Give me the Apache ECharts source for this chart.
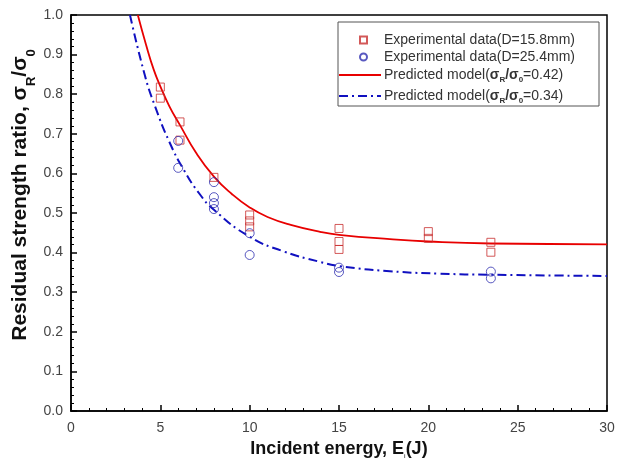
<!DOCTYPE html>
<html>
<head>
    <meta charset="utf-8">
    <title>Residual strength ratio</title>
    <script src="https://cdn.jsdelivr.net/npm/echarts@6/dist/echarts.min.js"></script>
</head>
<body style="margin:0">
<div id="main" style="width: 624px;height:458px;"></div>
<script type="text/javascript">
    var exp158 = [
        [5, 0.818], [5, 0.79], [6.1, 0.73], [6.1, 0.684], [8, 0.59],
        [10, 0.495], [10, 0.48], [10, 0.465],
        [15, 0.461], [15, 0.428], [15, 0.408],
        [20, 0.453], [20, 0.436],
        [23.5, 0.426], [23.5, 0.401]
    ];
    var exp254 = [
        [6, 0.682], [6, 0.614],
        [8, 0.578], [8, 0.54], [8, 0.525], [8, 0.51],
        [10, 0.449], [10, 0.394],
        [15, 0.362], [15, 0.351],
        [23.5, 0.352], [23.5, 0.335]
    ];
    // predicted model curves
    var model042 = [
        [3.74, 1.0], [4.2, 0.925], [4.63, 0.862], [5, 0.82], [5.5, 0.77],
        [6.1, 0.722], [7, 0.652], [8, 0.592], [9, 0.548], [10, 0.514],
        [11, 0.49], [12.3, 0.47], [14, 0.452], [15, 0.445], [17.85, 0.434],
        [20, 0.428], [23.5, 0.423], [30, 0.421]
    ];
    var model034 = [
        [3.3, 1.0], [4.15, 0.845], [4.7, 0.77], [5.5, 0.68], [6.3, 0.61],
        [7.2, 0.548], [8, 0.508], [10, 0.44], [11.9, 0.403], [13.9, 0.377],
        [15, 0.366], [17.85, 0.353], [20.6, 0.347], [23.5, 0.344], [30, 0.341]
    ];

    var myChart = echarts.init(document.getElementById('main'));

    var FONT = 'Liberation Sans';
    var legendRich = {
        a: {fontSize: 14, color: '#333', fontFamily: FONT, lineHeight: 18},
        s: {fontSize: 14, color: '#333', fontWeight: 'bold', fontFamily: FONT, lineHeight: 18},
        sub: {fontSize: 8, color: '#333', fontWeight: 'bold', fontFamily: FONT, verticalAlign: 'bottom', lineHeight: 18}
    };

    function modelLabel(name) {
        var v = name === 'p42' ? '0.42' : '0.34';
        return '{a|Predicted model(}{s|σ}{sub|R}{s|/σ}{sub|0}{a|=' + v + ')}';
    }

    var option = {
        animation: false,
        textStyle: {fontFamily: FONT},
        grid: {
            left: 71, right: 17, top: 15, bottom: 47,
            outerBoundsMode: 'none',
            containLabel: false,
            show: true, borderColor: '#000', borderWidth: 1.5
        },
        graphic: [{
            type: 'rect',
            shape: {x: 338, y: 22, width: 261, height: 84},
            style: {fill: '#fff', stroke: '#555', lineWidth: 1},
            z: 1
        }],
        legend: [
            {
                orient: 'vertical',
                left: 359, top: 32,
                padding: 0,
                itemGap: 1,
                itemWidth: 7,
                itemHeight: 7,
                z: 5,
                textStyle: {fontSize: 14, color: '#333', lineHeight: 16, padding: [0, 0, 0, 12]},
                data: ['Experimental data(D=15.8mm)', 'Experimental data(D=25.4mm)']
            },
            {
                orient: 'vertical',
                left: 338, top: 68,
                padding: 0,
                itemGap: 5,
                itemWidth: 42,
                itemHeight: 12,
                z: 5,
                itemStyle: {opacity: 0},
                textStyle: {fontSize: 14, color: '#333', rich: legendRich, padding: [0, 0, 0, -2]},
                formatter: modelLabel,
                data: ['p42', 'p34']
            }
        ],
        xAxis: {
            type: 'value', min: 0, max: 30, interval: 5,
            name: '{b|Incident energy, E}{i|i}{b|(J)}',
            nameLocation: 'middle', nameGap: 25,
            nameTextStyle: {
                rich: {
                    b: {fontSize: 18, fontWeight: 'bold', color: '#111', fontFamily: FONT},
                    i: {fontSize: 7, color: '#111', verticalAlign: 'bottom', padding: [0, 0, -3, 0]}
                }
            },
            axisLine: {lineStyle: {color: '#000', width: 1.5}},
            axisTick: {inside: true, length: 6, lineStyle: {color: '#000', width: 1.5}},
            minorTick: {show: true, splitNumber: 5, length: 3, lineStyle: {color: '#000', width: 1}},
            axisLabel: {fontSize: 14, color: '#444', margin: 10},
            splitLine: {show: false}
        },
        yAxis: {
            type: 'value', min: 0, max: 1, interval: 0.1,
            name: '{b|Residual strength ratio, σ}{s|R}{b|/σ}{s|0}',
            nameLocation: 'middle', nameGap: 40,
            nameMoveOverlap: false,
            nameTextStyle: {
                padding: [0, 0, 0, 36],
                rich: {
                    b: {fontSize: 21, fontWeight: 'bold', color: '#111', fontFamily: FONT},
                    s: {fontSize: 13, fontWeight: 'bold', color: '#111', verticalAlign: 'bottom', padding: [0, 0, -7, 0]}
                }
            },
            axisLine: {lineStyle: {color: '#000', width: 1.5}},
            axisTick: {inside: true, length: 6, lineStyle: {color: '#000', width: 1.5}},
            minorTick: {show: true, splitNumber: 5, length: 3, lineStyle: {color: '#000', width: 1}},
            axisLabel: {fontSize: 14, color: '#444', margin: 8, formatter: function (v) { return v.toFixed(1); }},
            splitLine: {show: false}
        },
        series: [
            {
                name: 'Experimental data(D=15.8mm)',
                type: 'scatter',
                symbol: 'rect',
                symbolSize: 8,
                itemStyle: {color: 'rgba(0,0,0,0)', borderColor: '#c83030', borderWidth: 1},
                data: exp158,
                z: 3
            },
            {
                name: 'Experimental data(D=25.4mm)',
                type: 'scatter',
                symbol: 'circle',
                symbolSize: 9,
                itemStyle: {color: 'rgba(0,0,0,0)', borderColor: '#3030b0', borderWidth: 1},
                data: exp254,
                z: 3
            },
            {
                name: 'p42',
                type: 'line',
                smooth: true,
                showSymbol: false,
                symbol: 'none',
                lineStyle: {color: '#e80000', width: 1.8},
                itemStyle: {color: '#e80000'},
                data: model042,
                z: 2
            },
            {
                name: 'p34',
                type: 'line',
                smooth: true,
                showSymbol: false,
                symbol: 'none',
                lineStyle: {color: '#1010c0', width: 2, type: [9, 4, 2, 4]},
                itemStyle: {color: '#1010c0'},
                data: model034,
                z: 2
            }
        ]
    };

    myChart.setOption(option);
</script>
</body>
</html>
